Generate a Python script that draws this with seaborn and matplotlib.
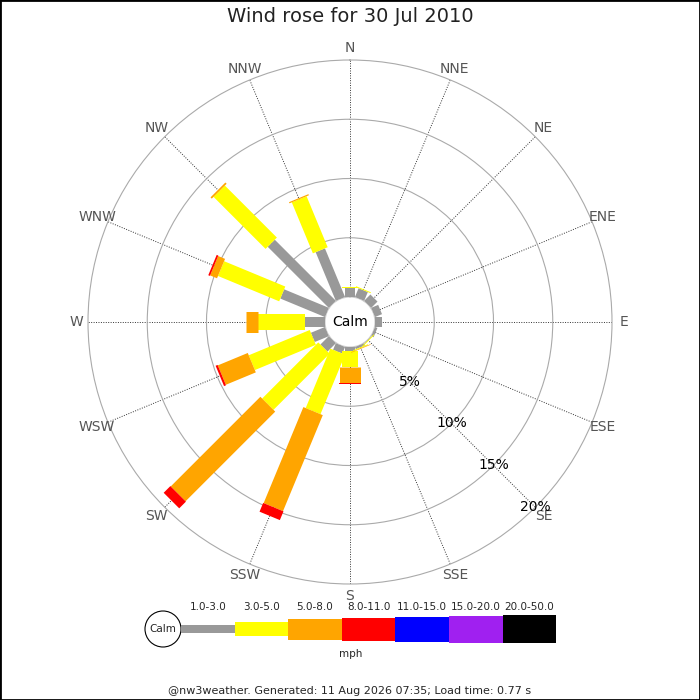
import numpy as np
import matplotlib
matplotlib.use('Agg')
import matplotlib.pyplot as plt
import seaborn as sns
from matplotlib.patches import Circle, Rectangle

sns.set_style('white')
plt.rcParams['font.family'] = ['DejaVu Sans']

# ========= данные (проценты по направлениям, 16 румбов) =========
directions = ['N', 'NNE', 'NE', 'ENE', 'E', 'ESE', 'SE', 'SSE',
              'S', 'SSW', 'SW', 'WSW', 'W', 'WNW', 'NW', 'NNW']
speed_classes = ['1.0-3.0', '3.0-5.0', '5.0-8.0', '8.0-11.0',
                 '11.0-15.0', '15.0-20.0', '20.0-50.0']
class_colors = ['#999999', '#ffff00', '#ffa500', '#ff0000',
                '#0000ff', '#a020f0', '#000000']

pct_1_3 = [0.76, 0.80, 0.75, 0.64, 0.57, 0.22, 0.05, 0.20,
           0.30, 0.60, 1.00, 1.29, 1.69, 4.08, 7.29, 4.44]
pct_3_5 = [0.09, 0.08, 0.0, 0.0, 0.0, 0.0, 0.07, 0.08,
           1.37, 5.43, 6.70, 5.57, 3.96, 5.59, 6.21, 4.66]
pct_5_8 = [0.0, 0.0, 0.0, 0.0, 0.0, 0.0, 0.0, 0.05,
           1.41, 8.77, 10.70, 2.74, 1.04, 0.63, 0.15, 0.10]
pct_8_11 = [0.0, 0.0, 0.0, 0.0, 0.0, 0.0, 0.0, 0.0,
            0.07, 0.80, 0.80, 0.18, 0.0, 0.15, 0.0, 0.0]
pct_11_15 = [0.0] * 16
pct_15_20 = [0.0] * 16
pct_20_50 = [0.0] * 16

ring_values = [5, 10, 15, 20]
ring_labels = ['5%', '10%', '15%', '20%']

title_text = 'Wind rose for 30 Jul 2010'
footer_text = '@nw3weather. Generated: 11 Aug 2026 07:35; Load time: 0.77 s'

# ширина сегментов в пикселях для каждого класса скорости
bar_px = [10, 16, 21, 22, 24, 25, 26]
legend_px = [8.3, 14.3, 21, 23, 25, 27, 28.3]

# ========= рисунок =========
DPI = 100
fig = plt.figure(figsize=(7, 7), dpi=DPI)

# координатная система для легенды и подписей (в пикселях)
lax = fig.add_axes([0, 0, 1, 1])
lax.set_xlim(0, 700)
lax.set_ylim(700, 0)
lax.axis('off')

cx, cy, R = 350, 322, 262
calm_px = 25
ax = fig.add_axes([(cx - R) / 700, (700 - cy - R) / 700, 2 * R / 700, 2 * R / 700],
                  projection='polar')
ax.set_theta_zero_location('N')
ax.set_theta_direction(-1)
rmax = 20
ax.set_ylim(0, rmax)
ax.set_rorigin(-rmax * calm_px / (R - calm_px))

theta = np.deg2rad(np.arange(16) * 22.5)
ax.set_xticks(theta)
ax.set_xticklabels([])
ax.set_yticks(ring_values[:-1])
ax.set_yticklabels([])
ax.xaxis.grid(True, linestyle=(0, (1, 1.5)), color='#333333', linewidth=0.7)
ax.yaxis.grid(True, linestyle='-', color='#aaaaaa', linewidth=0.8)
ax.spines['polar'].set_color('#aaaaaa')
ax.spines['polar'].set_linewidth(0.8)
ax.spines['inner'].set_color('#cccccc')
ax.spines['inner'].set_linewidth(0.8)
ax.tick_params(length=0)

# сегменты: от накопленного значения к следующему
series = [pct_1_3, pct_3_5, pct_5_8, pct_8_11, pct_11_15, pct_15_20, pct_20_50]
cum = np.zeros(16)
for vals, col, px in zip(series, class_colors, bar_px):
    vals = np.asarray(vals)
    for t, start, v in zip(theta, cum, vals):
        if v > 0:
            ax.plot([t, t], [start, start + v], color=col,
                    linewidth=px * 72 / DPI, solid_capstyle='butt', zorder=3)
    cum = cum + vals

# подписи направлений
for t, d in zip(theta, directions):
    ax.text(t, 21.0, d, ha='center', va='center', fontsize=10,
            color='#555555', clip_on=False)

# подписи колец
for v, lab in zip(ring_values, ring_labels):
    ax.text(np.deg2rad(135), v, lab, ha='center', va='center', fontsize=10,
            color='black', zorder=5, clip_on=False)

ax.text(0.5, 0.5, 'Calm', transform=ax.transAxes, ha='center', va='center',
        fontsize=10, color='black')

# ========= легенда =========
seg_w = 53.6
x0 = 181
ly = 629
lax.add_patch(Circle((163, ly), 18, facecolor='white', edgecolor='black',
                     linewidth=0.8))
lax.text(163, ly, 'Calm', ha='center', va='center', fontsize=7.5)
centers = x0 + seg_w * (np.arange(len(speed_classes)) + 0.5)
heights = np.array(legend_px)
lax.bar(centers, heights, bottom=ly - heights / 2, width=seg_w,
        color=class_colors, linewidth=0)
for xc, lab in zip(centers, speed_classes):
    lax.text(xc, 607, lab, ha='center', va='center', fontsize=7.5)
lax.text(351, 654, 'mph', ha='center', va='center', fontsize=7.5)

lax.text(350, 17, title_text, ha='center', va='center', fontsize=14,
         color='#222222')
lax.text(350, 691, footer_text, ha='center', va='center', fontsize=8)

fig.add_artist(Rectangle((0, 0), 1, 1, transform=fig.transFigure, fill=False,
                         edgecolor='black', linewidth=2))

fig.savefig('out.png', dpi=DPI, facecolor='white')
